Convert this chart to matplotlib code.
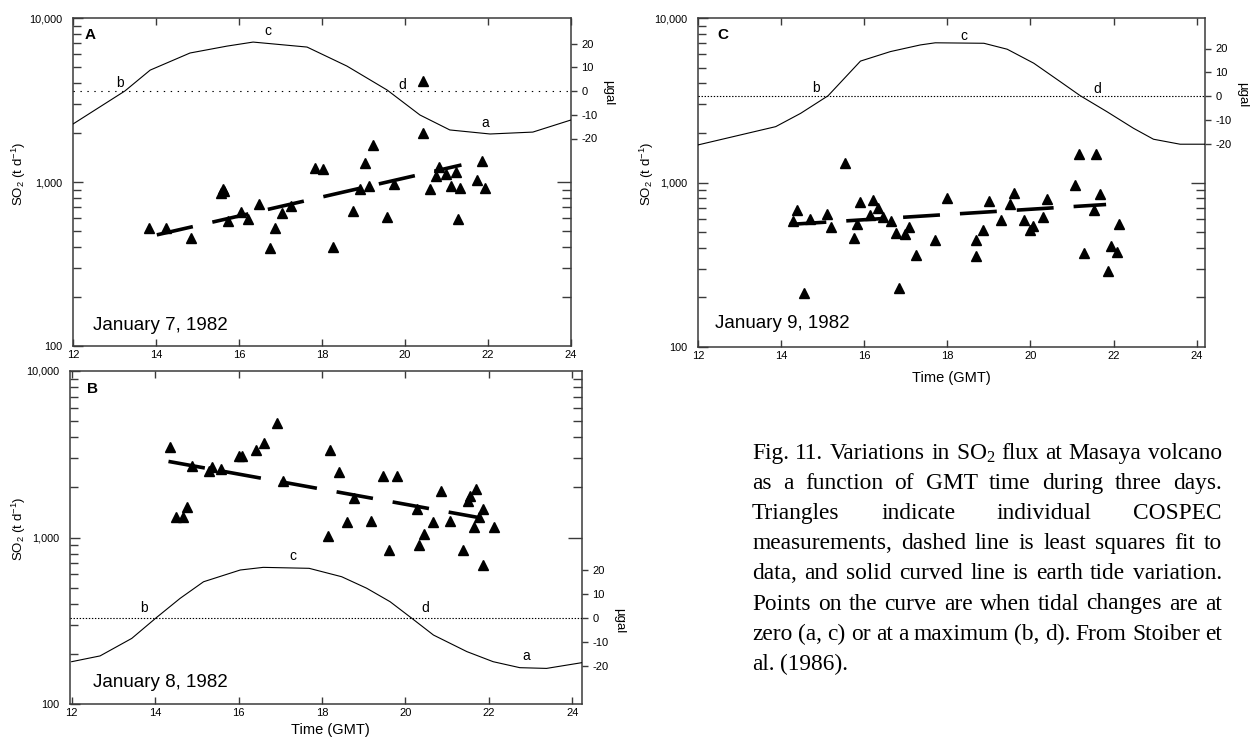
import numpy as np
import matplotlib.pyplot as plt
from matplotlib.ticker import FixedLocator, FuncFormatter, NullFormatter, LogLocator

plt.rcParams['font.family'] = ['Liberation Sans', 'DejaVu Sans']
plt.rcParams['lines.scale_dashes'] = False
plt.rcParams['axes.unicode_minus'] = False

W, H, DPI = 1252, 746, 100

# ---- Panel A: January 7, 1982 ----
a_hr = [13.82, 14.23, 14.84, 15.57, 15.61, 15.64, 15.74, 16.04, 16.22, 16.47, 16.75, 16.87,
        17.03, 17.25, 17.83, 18.02, 18.27, 18.75, 18.92, 19.04, 19.14, 19.24, 19.57, 19.73,
        20.43, 20.43, 20.60, 20.74, 20.82, 20.98, 21.11, 21.22, 21.28, 21.33, 21.73, 21.85, 21.93]
a_so2 = [523, 523, 454, 860, 905, 880, 581, 659, 593, 735, 398, 523,
         650, 714, 1210, 1205, 404, 668, 906, 1300, 946, 1683, 610, 972,
         4130, 1983, 906, 1092, 1239, 1114, 949, 1155, 594, 917, 1028, 1349, 917]
a_fit_hr = [14.02, 21.36]
a_fit_so2 = [476, 1270]
a_tide_hr = [12.0, 13.25, 13.86, 14.82, 15.71, 16.34, 17.64, 18.6, 19.57, 20.36, 21.08, 22.05, 23.08, 24.0]
a_tide_ugal = [-13.9, 0.0, 8.8, 16.0, 18.9, 20.6, 18.5, 10.5, 0.4, -10.1, -16.4, -18.1, -17.3, -12.2]
a_lbl = ['a', 'b', 'c', 'd']
a_lbl_hr = [21.93, 13.13, 16.7, 19.93]
a_lbl_ugal = [-13.5, 3.4, 25.3, 2.5]

# ---- Panel B: January 8, 1982 ----
b_hr = [14.36, 14.50, 14.66, 14.76, 14.88, 15.28, 15.37, 15.58, 16.00, 16.09, 16.42, 16.62, 16.91,
        17.07, 18.19, 18.14, 18.41, 18.59, 18.77, 19.17, 19.45, 19.60, 19.80, 20.27, 20.33,
        20.44, 20.67, 20.85, 21.07, 21.38, 21.49, 21.54, 21.69, 21.65, 21.77, 21.85, 21.86, 22.13]
b_so2 = [3510, 1324, 1324, 1517, 2700, 2494, 2660, 2578, 3097, 3097, 3365, 3690, 4900,
         2173, 3365, 1028, 2459, 1247, 1718, 1265, 2350, 836, 2350, 1485, 896,
         1052, 1247, 1910, 1265, 844, 1667, 1782, 1958, 1152, 1336, 1485, 680, 1164]
b_fit_hr = [14.32, 21.79]
b_fit_so2 = [2864, 1313]
b_tide_hr = [12.0, 12.68, 13.44, 14.04, 14.6, 15.16, 16.04, 16.59, 17.69, 18.47, 19.07, 19.63,
             20.15, 20.67, 21.47, 22.1, 22.74, 23.38, 24.23]
b_tide_ugal = [-18.2, -15.8, -8.5, 0.3, 8.2, 15.1, 20.0, 21.1, 20.7, 17.2, 12.4, 6.8,
               -0.1, -7.1, -14.0, -18.2, -20.7, -21.0, -18.6]
b_lbl = ['a', 'b', 'c', 'd']
b_lbl_hr = [22.9, 13.74, 17.3, 20.48]
b_lbl_ugal = [-15.8, 4.3, 26.0, 4.3]

# ---- Panel C: January 9, 1982 ----
c_hr = [14.39, 14.29, 14.56, 14.70, 15.11, 15.19, 15.53, 15.75, 15.83, 15.91, 16.13, 16.21,
        16.32, 16.45, 16.65, 16.77, 16.84, 16.97, 17.07, 17.24, 17.71, 17.98, 18.69, 18.68,
        18.86, 19.00, 19.28, 19.50, 19.60, 19.85, 19.99, 20.06, 20.30, 20.41, 21.08, 21.18,
        21.30, 21.52, 21.58, 21.68, 21.86, 21.94, 22.08, 22.14]
c_so2 = [685, 582, 213, 596, 639, 538, 1305, 461, 556, 764, 631, 781,
         695, 618, 582, 490, 228, 483, 538, 360, 447, 800, 447, 357,
         517, 770, 590, 745, 865, 590, 517, 542, 618, 796, 972, 1500,
         374, 680, 1500, 853, 289, 410, 379, 556]
c_fit_hr = [14.2, 21.82]
c_fit_so2 = [556, 735]
c_tide_hr = [12.0, 13.87, 14.47, 15.13, 15.91, 16.63, 17.35, 17.71, 18.88, 19.44, 20.08, 20.72,
             21.2, 21.84, 22.48, 22.96, 23.6, 24.2]
c_tide_ugal = [-20.6, -12.9, -7.3, 0.1, 14.7, 18.7, 21.5, 22.4, 22.2, 19.7, 13.8, 6.0,
               0.1, -6.6, -13.6, -18.2, -20.3, -20.3]
c_lbl = ['b', 'c', 'd']
c_lbl_hr = [14.83, 18.4, 21.6]
c_lbl_ugal = [3.2, 25.3, 2.8]

hour_ticks = [12, 14, 16, 18, 20, 22, 24]
ugal_ticks = [-20, -10, 0, 10, 20]
ugal_labels = ['-20', '-10', '0', '10', '20']
lower_minor = [200, 300, 400, 500, 600, 700, 800, 900]
upper_minor = [2000, 3000, 4000, 5000, 6000, 7000, 8000, 9000]

caption_lines = [
    'Fig. 11. Variations in SO$_\\mathregular{2}$ flux at Masaya volcano',
    'as a function of GMT time during three days.',
    'Triangles indicate individual COSPEC',
    'measurements, dashed line is least squares fit to',
    'data, and solid curved line is earth tide variation.',
    'Points on the curve are when tidal changes are at',
    'zero (a, c) or at a maximum (b, d). From Stoiber et',
    'al. (1986).',
]

SPINE = '#3a3a3a'
fig = plt.figure(figsize=(W / DPI, H / DPI), dpi=DPI)


def px_box(left, top, right, bottom):
    return [left / W, 1 - bottom / H, (right - left) / W, (bottom - top) / H]


def panel(px, xlim, hr, so2, fit_hr, fit_so2, tide_hr, tide_ugal, lbl, lbl_hr, lbl_ugal,
          zero_px, ppu, right_minor, dots, letter, letter_pos, date, date_pos):
    left, top, right, bottom = px
    ax = fig.add_axes(px_box(left, top, right, bottom))
    ax.set_yscale('log')
    ax.set_ylim(100, 10000)
    ax.set_xlim(*xlim)
    for s in ax.spines.values():
        s.set_color(SPINE)
        s.set_linewidth(1.1)
    ax.yaxis.set_major_locator(FixedLocator([100, 1000, 10000]))
    ax.yaxis.set_minor_locator(LogLocator(subs=np.arange(2, 10)))
    ax.yaxis.set_major_formatter(FuncFormatter(lambda v, _: f'{v:,.0f}'))
    ax.yaxis.set_minor_formatter(NullFormatter())
    ax.tick_params(axis='y', which='major', direction='in', length=7.5, width=1,
                   labelsize=7.8, pad=7.5, color=SPINE)
    ax.tick_params(axis='y', which='minor', direction='in', length=6, width=1, color=SPINE)
    ax.set_xticks(hour_ticks)
    ax.tick_params(axis='x', direction='in', top=True, bottom=True, length=5, width=1,
                   labelsize=8, pad=3, color=SPINE)

    # inner log ticks on the right spine (one decade only)
    axr = ax.twinx()
    axr.set_yscale('log')
    axr.set_ylim(100, 10000)
    axr.yaxis.set_major_locator(FixedLocator([1000]))
    axr.yaxis.set_minor_locator(FixedLocator(right_minor))
    axr.yaxis.set_major_formatter(NullFormatter())
    axr.yaxis.set_minor_formatter(NullFormatter())
    axr.tick_params(axis='y', which='major', direction='in', length=10, width=1, color=SPINE)
    axr.tick_params(axis='y', which='minor', direction='in', length=6.5, width=1, color=SPINE)
    for s in axr.spines.values():
        s.set_visible(False)

    # earth tide scale (µgal)
    axt = ax.twinx()
    axt.set_ylim(-(bottom - zero_px) / ppu, (zero_px - top) / ppu)
    axt.set_yticks(ugal_ticks)
    axt.set_yticklabels(ugal_labels)
    axt.tick_params(axis='y', direction='out', length=4.3, width=1, labelsize=8, pad=3, color=SPINE)
    for s in axt.spines.values():
        s.set_visible(False)
    axt.axhline(0, color='black', lw=0.8, linestyle=dots)
    axt.plot(tide_hr, tide_ugal, color='black', lw=0.8)
    for t, x, y in zip(lbl, lbl_hr, lbl_ugal):
        axt.text(x, y, t, fontsize=10, ha='center', va='center')

    # SO2 measurements and least squares fit
    ax.plot(hr, so2, linestyle='none', marker='^', ms=6.5, color='black')
    ax.plot(fit_hr, fit_so2, color='black', lw=2.6, linestyle=(0, (26.6, 14.4)),
            dash_capstyle='butt')

    fig.text(letter_pos[0] / W, 1 - letter_pos[1] / H, letter, fontsize=11,
             fontweight='bold', va='baseline')
    fig.text(date_pos[0] / W, 1 - date_pos[1] / H, date, fontsize=13.5, va='baseline')
    return ax


panel((73, 18, 571, 346), (12, 24), a_hr, a_so2, a_fit_hr, a_fit_so2, a_tide_hr, a_tide_ugal,
      a_lbl, a_lbl_hr, a_lbl_ugal, 91, 2.375, lower_minor, (0, (1, 4)),
      'A', (85, 39), 'January 7, 1982', (93, 330))
panel((70, 371, 582, 704), (11.96, 24.23), b_hr, b_so2, b_fit_hr, b_fit_so2, b_tide_hr, b_tide_ugal,
      b_lbl, b_lbl_hr, b_lbl_ugal, 618, 2.4, upper_minor, (0, (1, 1.2)),
      'B', (87, 393), 'January 8, 1982', (93, 687))
panel((698, 18, 1205, 347), (12, 24.2), c_hr, c_so2, c_fit_hr, c_fit_so2, c_tide_hr, c_tide_ugal,
      c_lbl, c_lbl_hr, c_lbl_ugal, 96, 2.375, lower_minor, (0, (1, 1.2)),
      'C', (717, 39), 'January 9, 1982', (715, 328))

so2_label = 'SO$_\\mathregular{2}$ (t d$^\\mathregular{-1}$)'
for x, y in [(19, 174), (19, 529), (647, 174)]:
    fig.text(x / W, 1 - y / H, so2_label, rotation=90, ha='center', va='center', fontsize=9.5)
for x, y in [(608, 93), (619, 621), (1242, 95)]:
    fig.text(x / W, 1 - y / H, 'µgal', rotation=270, ha='center', va='center', fontsize=9.5)
for x, y in [(330, 730), (951, 378)]:
    fig.text(x / W, 1 - y / H, 'Time (GMT)', ha='center', va='center', fontsize=10.5)

# justified caption
cap_left, cap_right = 752, 1222
cap_base, cap_step = 459, 30.1
cap_size = 16.8
renderer = fig.canvas.get_renderer()
for i, line in enumerate(caption_lines):
    y = 1 - (cap_base + i * cap_step) / H
    words = line.split(' ')
    texts = [fig.text(0, y, w, fontsize=cap_size, family='Liberation Serif', va='baseline')
             for w in words]
    widths = [t.get_window_extent(renderer).width for t in texts]
    if i < len(caption_lines) - 1:
        gap = (cap_right - cap_left - sum(widths)) / (len(words) - 1)
    else:
        gap = 0.25 * cap_size * DPI / 72
    x = cap_left
    for t, w in zip(texts, widths):
        t.set_x(x / W)
        x += w + gap

fig.savefig('out.png', dpi=DPI)
